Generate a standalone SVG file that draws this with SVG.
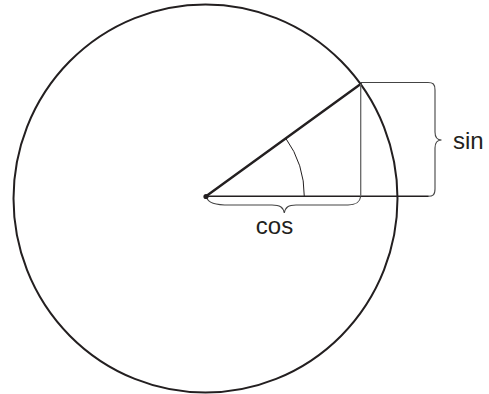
<svg xmlns="http://www.w3.org/2000/svg" width="489" height="394" viewBox="0 0 489 394">
<style>
.ln{fill:none;stroke:#231f20;stroke-linecap:round;stroke-linejoin:round}
.br{fill:none;stroke:#444;stroke-width:1.1}
.t{font-family:"Liberation Sans",Arial,sans-serif;font-size:24px;fill:#231f20}
</style>
<rect width="489" height="394" fill="#fff"/>
<g id="circle">
<ellipse class="ln" cx="205.5" cy="198.5" rx="192" ry="194" stroke-width="2"/>
</g>
<g id="connectors">
<line class="ln" x1="206" y1="196.3" x2="360.7" y2="84" stroke-width="2.4"/>
<line class="ln" x1="206" y1="196.3" x2="428" y2="196.3" stroke-width="1.5"/>
<line x1="360.7" y1="84" x2="360.7" y2="196.3" stroke="#666" stroke-width="1.3"/>
<line x1="360.7" y1="82.5" x2="428" y2="82.5" stroke="#444" stroke-width="1.1"/>
<path class="ln" d="M304.3,196.3 A98.3,98.3 0 0 0 285.8,138.3" stroke-width="1"/>
<path class="br" d="M428,82.5 C433,82.5 435,84 435,90 L435,132 C435,138 437,140 441.5,140 C437,140 435,142 435,148 L435,189 C435,195 433,196.3 428,196.3"/>
<path class="br" d="M206,196.3 C208,203 215,205 230,205 L272,205 C280,205 283,207 284.3,213 C285.5,207 288.5,205 296,205 L348,205 C357,205 360,202 360.7,196.3"/>
</g>
<g id="center">
<circle cx="206" cy="196.5" r="2.6" fill="#231f20"/>
</g>
<g id="labels">
<text class="t" x="274.5" y="234.3" text-anchor="middle">cos</text>
<text class="t" x="453" y="149">sin</text>
</g>
</svg>
